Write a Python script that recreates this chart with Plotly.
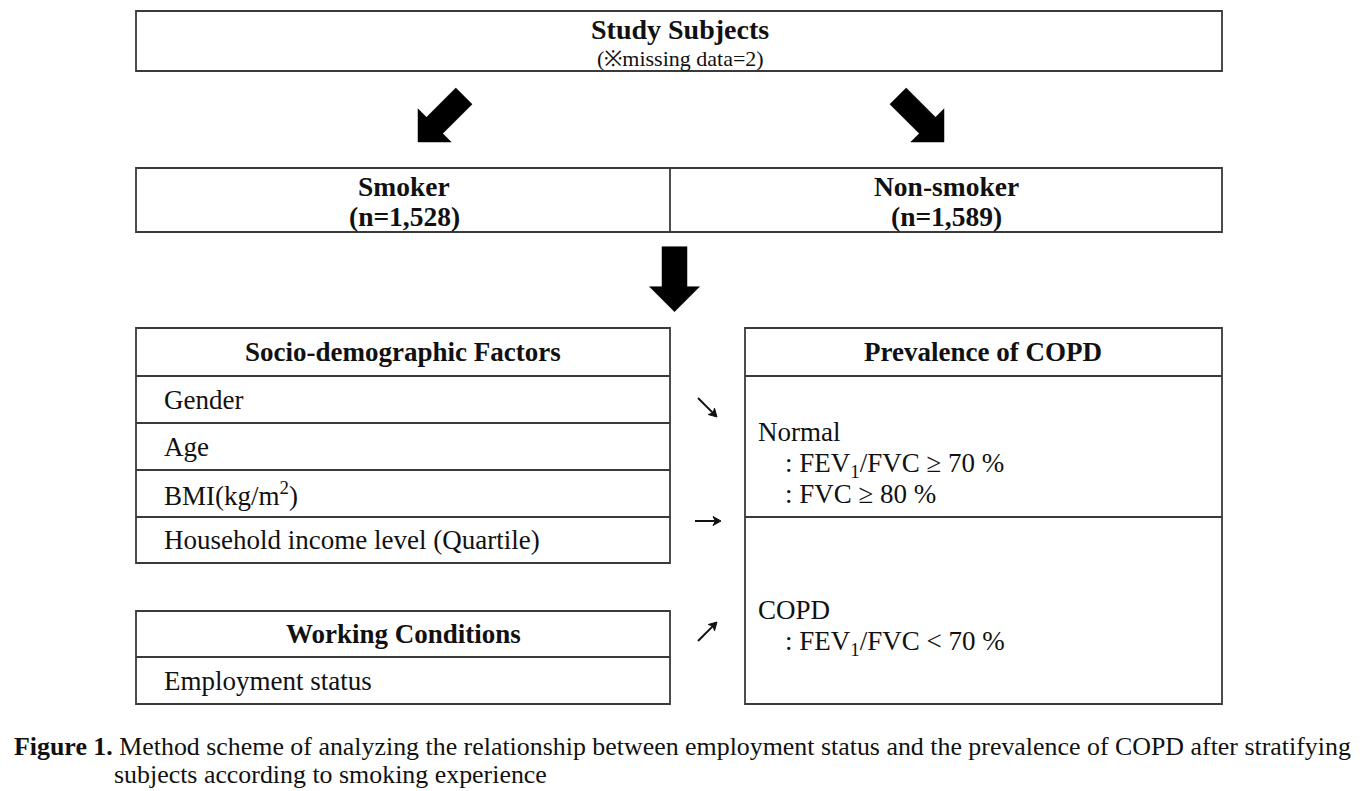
import math
import plotly.graph_objects as go

# ---------------- content ----------------
top_title = "Study Subjects"
top_sub = "(※missing data=2)"
groups = ["Smoker", "Non-smoker"]
group_n = ["(n=1,528)", "(n=1,589)"]
socio_header = "Socio-demographic Factors"
socio_items = ["Gender", "Age", "BMI(kg/m<sup>2</sup>)", "Household income level (Quartile)"]
work_header = "Working Conditions"
work_items = ["Employment status"]
prev_header = "Prevalence of COPD"
normal_lines = ["Normal", "\u2003: FEV<sub>1</sub>/FVC ≥ 70 %", "\u2003: FVC ≥ 80 %"]
copd_lines = ["COPD", "\u2003: FEV<sub>1</sub>/FVC < 70 %"]
caption_line1 = "<b>Figure 1.</b> Method scheme of analyzing the relationship between employment status and the prevalence of COPD after stratifying"
caption_line2 = "subjects according to smoking experience"

# ---------------- layout geometry (pixels) ----------------
W, H = 1366, 791
FONT = "Liberation Serif"
LC = "#3a3a3a"
LW = 1.8
BODY = 27

shapes = []
annots = []


def rect(x0, y0, x1, y1):
    shapes.append(dict(type="rect", x0=x0, y0=y0, x1=x1, y1=y1, xref="x", yref="y",
                       line=dict(color=LC, width=LW), fillcolor="rgba(0,0,0,0)"))


def hline(x0, x1, y):
    shapes.append(dict(type="line", x0=x0, x1=x1, y0=y, y1=y, xref="x", yref="y",
                       line=dict(color=LC, width=LW)))


def vline(x, y0, y1):
    shapes.append(dict(type="line", x0=x, x1=x, y0=y0, y1=y1, xref="x", yref="y",
                       line=dict(color=LC, width=LW)))


def text(x, y, s, size=BODY, bold=False, xanchor="center"):
    if bold:
        s = "<b>" + s + "</b>"
    annots.append(dict(x=x, y=y, xref="x", yref="y", text=s, showarrow=False,
                       xanchor=xanchor, yanchor="middle",
                       font=dict(family=FONT, size=size, color="#111")))


def block_arrow(tx, ty, dx, dy, length, shaft_w, head_w, head_len):
    n = math.hypot(dx, dy)
    ux, uy = dx / n, dy / n          # direction toward tip
    px, py = -uy, ux                 # perpendicular
    bx, by = tx - ux * length, ty - uy * length
    hx, hy = tx - ux * head_len, ty - uy * head_len
    pts = [
        (bx + px * shaft_w / 2, by + py * shaft_w / 2),
        (hx + px * shaft_w / 2, hy + py * shaft_w / 2),
        (hx + px * head_w / 2, hy + py * head_w / 2),
        (tx, ty),
        (hx - px * head_w / 2, hy - py * head_w / 2),
        (hx - px * shaft_w / 2, hy - py * shaft_w / 2),
        (bx - px * shaft_w / 2, by - py * shaft_w / 2),
    ]
    path = "M " + " L ".join(f"{x:.1f},{y:.1f}" for x, y in pts) + " Z"
    shapes.append(dict(type="path", path=path, xref="x", yref="y",
                       fillcolor="black", line=dict(color="black", width=0.5)))


def small_arrow(x0, y0, x1, y1):
    # thin line with a small solid head
    n = math.hypot(x1 - x0, y1 - y0)
    ux, uy = (x1 - x0) / n, (y1 - y0) / n
    px, py = -uy, ux
    L, w = 8, 4.5
    shapes.append(dict(type="line", x0=x0, y0=y0, x1=x1 - ux * L * 0.6, y1=y1 - uy * L * 0.6,
                       xref="x", yref="y", line=dict(color="#111", width=2)))
    a = (x1 - ux * L + px * w, y1 - uy * L + py * w)
    b = (x1 - ux * L - px * w, y1 - uy * L - py * w)
    c = (x1 - ux * L * 0.7, y1 - uy * L * 0.7)
    path = (f"M {a[0]:.1f},{a[1]:.1f} L {x1:.1f},{y1:.1f} L {b[0]:.1f},{b[1]:.1f} "
            f"L {c[0]:.1f},{c[1]:.1f} Z")
    shapes.append(dict(type="path", path=path, xref="x", yref="y",
                       fillcolor="#111", line=dict(color="#111", width=1)))


# top box
rect(136, 11, 1222, 71)
text(680, 29, top_title, size=28, bold=True)
text(680, 58, top_sub, size=22)

# diagonal arrows
block_arrow(418, 142, -1, 1, 65, 23, 47, 23.5)
block_arrow(944, 142, 1, 1, 65, 23, 47, 23.5)

# smoker / non-smoker box
rect(136, 168, 1222, 232)
vline(670, 168, 232)
for cx, g, nn in zip([404, 946], groups, group_n):
    text(cx, 186, g, size=27.5, bold=True)
    text(cx, 216, nn, size=27.5, bold=True)

# down arrow
block_arrow(674.5, 311.7, 0, 1, 65, 25, 50, 25)

# socio-demographic box
socio_rows = [328, 376, 423, 470, 517, 563]
rect(136, socio_rows[0], 670, socio_rows[-1])
for y in socio_rows[1:-1]:
    hline(136, 670, y)
text(403, (socio_rows[0] + socio_rows[1]) / 2, socio_header, bold=True)
for i, item in enumerate(socio_items):
    text(162, (socio_rows[i + 1] + socio_rows[i + 2]) / 2, item, xanchor="left")

# working conditions box
work_rows = [611, 657, 704]
rect(136, work_rows[0], 670, work_rows[-1])
hline(136, 670, work_rows[1])
text(403, (work_rows[0] + work_rows[1]) / 2, work_header, bold=True)
text(162, (work_rows[1] + work_rows[2]) / 2, work_items[0], xanchor="left")

# prevalence box
rect(745, 328, 1222, 704)
hline(745, 1222, 376)
hline(745, 1222, 517)
text(983, 352, prev_header, bold=True)
for y, s in zip([432, 465, 494], normal_lines):
    text(756, y, s, xanchor="left")
for y, s in zip([610, 643], copd_lines):
    text(756, y, s, xanchor="left")

# small arrows
small_arrow(698, 398, 717, 417)
small_arrow(695, 521, 721, 521)
small_arrow(698, 641, 717, 622)

# caption
annots.append(dict(x=12, y=746, xref="x", yref="y", text=caption_line1, showarrow=False,
                   xanchor="left", yanchor="middle", font=dict(family=FONT, size=25.9, color="#111")))
annots.append(dict(x=112, y=774, xref="x", yref="y", text=caption_line2, showarrow=False,
                   xanchor="left", yanchor="middle", font=dict(family=FONT, size=25.9, color="#111")))

fig = go.Figure()
fig.update_layout(
    width=W, height=H,
    margin=dict(l=0, r=0, t=0, b=0),
    paper_bgcolor="white", plot_bgcolor="white",
    xaxis=dict(range=[0, W], visible=False, fixedrange=True),
    yaxis=dict(range=[H, 0], visible=False, fixedrange=True),
    shapes=shapes, annotations=annots, showlegend=False,
)
fig.write_html("out.html", config={"displayModeBar": False},
               post_script="document.body.style.margin='0';document.body.style.overflow='hidden';")
